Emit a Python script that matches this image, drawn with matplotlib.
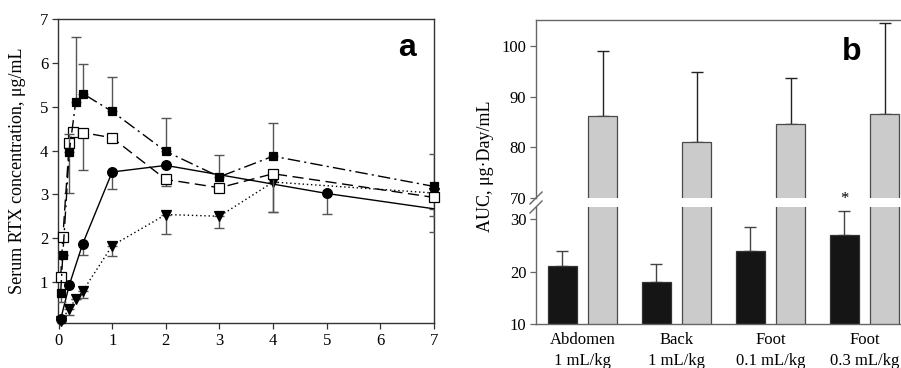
import matplotlib
matplotlib.use("Agg")
import matplotlib.pyplot as plt
import numpy as np
from matplotlib.lines import Line2D

# ---------------- data: panel a ----------------
t_sqf = [0.04, 0.08, 0.2, 0.32, 0.45, 1, 2, 3, 4, 7]
y_sqf = [0.76, 1.62, 3.97, 5.11, 5.30, 4.89, 3.98, 3.40, 3.87, 3.18]
lo_sqf = [0.21, 0, 0, 0, 0, 0, 0, 0, 0, 0]
up_sqf = [0, 0, 0.41, 1.49, 0.68, 0.79, 0.77, 0.49, 0.76, 0.75]

t_sqo = [0.04, 0.08, 0.2, 0.27, 0.45, 1, 2, 3, 4, 7]
y_sqo = [1.11, 2.02, 4.17, 4.43, 4.41, 4.29, 3.34, 3.15, 3.47, 2.93]
lo_sqo = [0, 0, 1.13, 0, 0.86, 0, 0.16, 0, 0.87, 0.43]
up_sqo = [0, 0, 0, 0, 0, 0, 0, 0, 0, 0]

t_cir = [0.04, 0.2, 0.45, 1, 2, 5, 7]
y_cir = [0.15, 0.93, 1.87, 3.51, 3.66, 3.02, 2.67]
lo_cir = [0, 0, 0.25, 0.39, 0, 0.46, 0.54]
up_cir = [0, 0, 0, 0, 0, 0, 0]

t_tri = [0.04, 0.2, 0.32, 0.45, 1, 2, 3, 4, 7]
y_tri = [0.12, 0.38, 0.62, 0.79, 1.83, 2.54, 2.50, 3.28, 3.03]
lo_tri = [0, 0.13, 0, 0.16, 0.23, 0.44, 0.27, 0.68, 0]
up_tri = [0, 0, 0, 0, 0, 0, 0, 0, 0]

# ---------------- data: panel b ----------------
sites = ["Abdomen\n1 mL/kg", "Back\n1 mL/kg", "Foot\n0.1 mL/kg", "Foot\n0.3 mL/kg"]
auc_black = [21.0, 18.1, 24.0, 26.9]
err_black = [3.0, 3.3, 4.5, 4.7]
auc_grey = [86.1, 81.0, 84.6, 86.5]
err_grey = [12.9, 13.9, 9.0, 18.1]

W, H = 901, 368
plt.rcParams['font.family'] = ['Liberation Serif', 'DejaVu Serif']
fig = plt.figure(figsize=(W / 100, H / 100), dpi=100)

def box(l, t, r, b):
    return [l / W, 1 - b / H, (r - l) / W, (b - t) / H]

# ---------------- panel a ----------------
axa = fig.add_axes(box(58, 19, 434, 323))
axa.set_xlim(-0.01, 7)
axa.set_ylim(0.065, 7)
spc = '#333333'
for s in axa.spines.values():
    s.set_color(spc)
    s.set_linewidth(1.0)
axa.tick_params(direction='out', length=4, width=0.9, color=spc, labelsize=12, pad=3)
axa.set_xticks(range(0, 8))
axa.set_yticks(range(1, 8))

ecol = '#555555'
def series(t, y, lo, up, marker, ms, mfc, ls, z, markevery=None):
    axa.errorbar(t, y, yerr=[lo, up], fmt='none', ecolor=ecol, elinewidth=1.0,
                 capsize=3.5, capthick=1.0, zorder=z - 0.5)
    axa.plot(t, y, linestyle=ls, color='black', lw=1.0, marker=marker, ms=ms,
             mfc=mfc, mec='black', mew=0.9, zorder=z, clip_on=False,
             markevery=markevery)

series(t_tri, y_tri, lo_tri, up_tri, 'v', 7, 'black', (0, (1, 2)), 3)
series(t_cir, y_cir, lo_cir, up_cir, 'o', 7, 'black', '-', 4,
       markevery=list(range(len(t_cir) - 1)))
series(t_sqo, y_sqo, lo_sqo, up_sqo, 's', 6.5, 'white', (0, (8, 4)), 5)
series(t_sqf, y_sqf, lo_sqf, up_sqf, 's', 6.0, 'black', (0, (9, 3, 1.5, 3)), 6)

axa.text(407 / W, 1 - 48 / H, 'a', transform=fig.transFigure, fontsize=23,
         fontweight='bold', family=['Liberation Sans', 'DejaVu Sans'],
         ha='center', va='center')
fig.text(18 / W, 1 - 171 / H, 'Serum RTX concentration, μg/mL', rotation=90,
         fontsize=13, ha='center', va='center')

# ---------------- panel b ----------------
bspc = '#666666'
axu = fig.add_axes(box(536, 20, 536 + 4 * 94, 198))
axl = fig.add_axes(box(536, 207, 536 + 4 * 94, 324))
xlim = (-0.495, 3.505)
for ax in (axu, axl):
    ax.set_xlim(*xlim)
    for s in ax.spines.values():
        s.set_color(bspc)
        s.set_linewidth(1.0)
    ax.tick_params(axis='y', direction='out', length=4, width=0.9, color=bspc,
                   labelsize=12, pad=3)
axu.set_ylim(70, 105.1)
axl.set_ylim(10, 32.3)
axu.spines['bottom'].set_visible(False)
axl.spines['top'].set_visible(False)
axu.set_yticks([70, 80, 90, 100])
axl.set_yticks([10, 20, 30])
axu.set_xticks([])
axl.set_xticks(range(len(sites)))
axl.set_xticklabels(sites, fontsize=12, linespacing=1.35)
axl.tick_params(axis='x', length=0, pad=6, labelsize=12)

x = np.arange(len(sites))
off, bw = 0.216, 0.31
gcol, bcol = '#cbcbcb', '#151515'
for ax in (axu, axl):
    ax.bar(x + off, auc_grey, width=bw, color=gcol, edgecolor='#4a4a4a', lw=0.9, zorder=2)
axl.bar(x - off, auc_black, width=bw, color=bcol, edgecolor='#333333', lw=0.9, zorder=2)
axu.errorbar(x + off, auc_grey, yerr=[np.zeros(4), err_grey], fmt='none',
             ecolor='#222222', elinewidth=1.0, capsize=4, capthick=1.0, zorder=1)
axl.errorbar(x - off, auc_black, yerr=[np.zeros(4), err_black], fmt='none',
             ecolor='#444444', elinewidth=1.0, capsize=4, capthick=1.0, zorder=1)

axl.text(3 - off, 33.9, '*', fontsize=12, ha='center', va='center', clip_on=False)

# break marks on the left spine
for yc in (198, 207):
    fig.add_artist(Line2D([530 / W, 542 / W], [1 - (yc + 6) / H, 1 - (yc - 6) / H],
                          color=bspc, lw=1.0))

axu.text(852 / W, 1 - 52 / H, 'b', transform=fig.transFigure, fontsize=23,
         fontweight='bold', family=['Liberation Sans', 'DejaVu Sans'],
         ha='center', va='center')
fig.text(485 / W, 1 - 166 / H, 'AUC, μg·Day/mL', rotation=90,
         fontsize=13, ha='center', va='center')

fig.savefig('out.png', dpi=100)
